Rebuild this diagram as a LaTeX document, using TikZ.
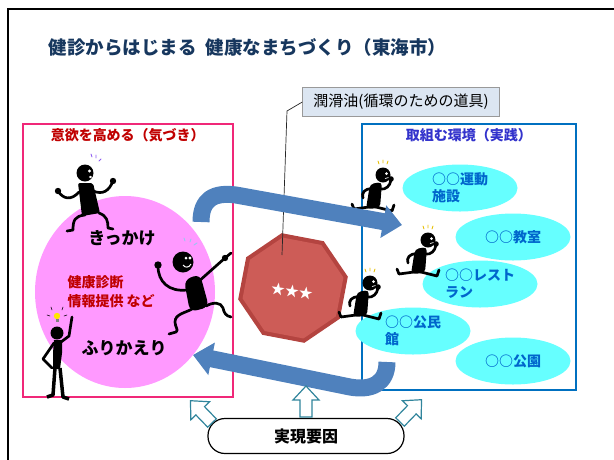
\documentclass[tikz,border=0pt]{standalone}
\usepackage{fontspec}
\setmainfont{Noto Sans CJK JP}
\usetikzlibrary{
    arrows.meta,
    positioning,
    shapes.geometric
}

\definecolor{titleblue}{RGB}{23,55,94}
\definecolor{kizukired}{RGB}{192,0,0}
\definecolor{jissenblue}{RGB}{51,51,204}
\definecolor{pinkline}{RGB}{240,40,120}
\definecolor{boxblue}{RGB}{0,112,192}
\definecolor{pinkfill}{RGB}{255,153,255}
\definecolor{cyanfill}{RGB}{102,255,255}
\definecolor{placeblue}{RGB}{0,102,204}
\definecolor{flowblue}{RGB}{79,129,189}
\definecolor{tealline}{RGB}{49,133,156}
\definecolor{calloutfill}{RGB}{220,230,242}
\definecolor{octred}{RGB}{205,92,87}
\definecolor{octedge}{RGB}{180,68,64}
\definecolor{sparkyellow}{RGB}{230,190,0}
\definecolor{sparkviolet}{RGB}{140,90,240}
\definecolor{sparkblue}{RGB}{150,200,240}
\definecolor{bulbyellow}{RGB}{255,230,0}

\tikzset{
    limb/.style={line width=2.7pt, line cap=round, line join=round},
    spark/.style={line width=0.9pt, line cap=round},
    % running figure, origin at the head
    runner/.pic={
        \fill (0,0) circle (7.5);
        \fill[white] (3.5,-1.5) circle (1.5);
        \draw[white, line width=0.7pt] (2,3.5) -- (5.5,2.5);
        \draw[spark, draw=sparkyellow] (-4,-11) -- (-5,-14) (0,-12) -- (0,-15) (4,-11) -- (5,-14);
        \fill[rounded corners=4] (-13,9) -- (-1,7) -- (-3,33) -- (-17,34) -- cycle;
        \draw[limb] (-11,14) .. controls (-18,13) and (-22,18) .. (-20,23);
        \draw[limb] (-3,14) .. controls (3,15) and (7,11) .. (8,5);
        \fill (8,4) circle (2.8);
        \draw[limb] (-14,32) -- (-29,34) -- (-31,29);
        \draw[limb] (-7,32) -- (9,36) -- (11,30);
    },
    % shrugging figure
    shrugger/.pic={
        \fill (0,0) circle (8.5);
        \fill[white] (4.5,-2) circle (1.7);
        \fill[white] (5.5,4) ellipse (1.6 and 1.2);
        \draw[spark, draw=sparkviolet] (7,-16) -- (6,-19) (11,-15) -- (11,-18) (14,-12) -- (16,-14);
        \fill[rounded corners=2] (-7,10) -- (8,10) -- (15,40) -- (-3,43) -- cycle;
        \draw[limb] (-6,19) .. controls (-14,28) and (-22,26) .. (-27,18);
        \fill (-27,18) circle (3.2);
        \draw[limb] (8,18) .. controls (18,22) and (24,18) .. (28,8);
        \fill (28,8) circle (3.2);
        \draw[limb] (0,42) .. controls (-10,43) and (-12,47) .. (-12,57) -- (-18,58);
        \draw[limb] (14,40) .. controls (22,43) and (23,48) .. (23,55) -- (28,56);
    },
    % pointing figure
    pointer/.pic={
        \fill (0,0) circle (10.5);
        \fill[white] (3,-4) circle (1.5) (7,-4) circle (1.7);
        \draw[white, line width=1pt] (0,3) .. controls (2,6) and (6,6) .. (8,2);
        \draw[spark, draw=sparkblue] (2,-21) -- (1,-24) (7,-20) -- (8,-23) (11,-17) -- (14,-19);
        \fill[rounded corners=7] (1,18) -- (17,12) -- (26,45) -- (7,50) -- cycle;
        \draw[limb] (4,28) .. controls (-14,30) and (-25,20) .. (-25,4);
        \fill (-25,3) circle (3.7);
        \draw[limb] (15,20) -- (42,-4) -- (48,-9);
        \fill (42,-4) circle (3.2);
        \draw[limb] (9,47) .. controls (2,51) and (-8,52) .. (-8,60)
            .. controls (-8,65) and (-4,68) .. (-7,70) -- (-14,72);
        \draw[limb] (23,44) .. controls (30,40) and (38,40) .. (40,46)
            .. controls (41,51) and (43,54) .. (48,55);
    },
    % figure with the light bulb
    thinker/.pic={
        \fill (0,0) circle (6.5);
        \fill (-3,7) -- (5,7) -- (5,20) -- (3,36) -- (-4,36) -- (-4,20) -- cycle;
        \draw[line width=3.5pt, line join=round] (-2,35) -- (-4,62) -- (-10,64);
        \draw[line width=3.5pt, line join=round] (3,35) -- (6,64) -- (12,66);
        \draw[limb] (4,9) -- (12,3) -- (15,-16);
        \draw[limb] (-3,10) -- (-14,26) -- (-5,35);
        \fill[bulbyellow] (0,-17) circle (3.2);
        \fill[gray] (-1.5,-14) rectangle (1.5,-11.5);
        \draw[spark, line width=0.6pt] (-7,-17) -- (-10,-18) (-5,-23) -- (-6,-26)
            (5,-23) -- (6,-26) (7,-17) -- (10,-18);
    },
    % hollow block arrow, tail at the origin
    liftarrow/.pic={
        \draw[draw=tealline, fill=white, line width=1.2pt]
        (-6,0) -- (-6,-17) -- (-13,-17) -- (0,-31) -- (13,-17) -- (6,-17) -- (6,0) -- cycle;
    }
}

\begin{document}
\begin{tikzpicture}[x=1pt,y=-1pt,
    frame/.style={minimum width=#1, anchor=north west, inner sep=0pt},
    place/.style={ellipse, fill=cyanfill, minimum width=115, minimum height=47,
        inner sep=0pt, align=left, text=placeblue,
        font=\bfseries\fontsize{14}{17}\selectfont},
    flow/.style={draw=flowblue, line width=17pt,
        -{Triangle[length=19pt,width=32pt]}},
    big/.style={font=\bfseries\fontsize{17}{20}\selectfont}]

\useasboundingbox (0,0) rectangle (614,459);

% Outer frame
\draw[line width=2.5pt] (8,470) -- (8,9) -- (625,9);

\node[anchor=west, text=titleblue, font=\bfseries\fontsize{18.5}{20}\selectfont]
    (title) at (45,47) {健診からはじまる\hspace{9pt}健康なまちづくり（東海市）};

% Left box
\node[frame=210, draw=pinkline, line width=1.5pt, minimum height=273] (kizuki) at (22,123) {};
\node[below=2pt of kizuki.north, text=kizukired, font=\bfseries\fontsize{14}{16}\selectfont]
    (kizukiTitle) {意欲を高める（気づき）};
\node[ellipse, fill=pinkfill, minimum width=180, minimum height=192] (loop) at (125,292) {};

\node[big] (kikkake) at (122,238) {きっかけ};
\node[anchor=north west, align=left, text=kizukired,
      font=\bfseries\fontsize{14}{19}\selectfont] (kenshin) at (64,272) {健康診断\\情報提供 など};
\node[big] (furikaeri) at (124,348) {ふりかえり};

\pic at (85,173) {shrugger};
\pic at (183,262) {pointer};
\pic at (57,333) {thinker};

% Right box
\node[frame=214, draw=boxblue, line width=1.5pt, minimum height=266] (jissen) at (361,123) {};
\node[below=2pt of jissen.north, text=jissenblue, font=\bfseries\fontsize{14}{16}\selectfont]
    (jissenTitle) {取組む環境（実践）};

\node[place] (sports) at (460,188) {○○運動\\施設};
\node[place] (school) at (513,237) {○○教室};
\node[place] (resto) at (480,284) {○○レスト\\ラン};
\node[place] (hall) at (413,331) {○○公民\\館};
\node[place] (park) at (513,361) {○○公園};

% Octagon
\node[regular polygon, regular polygon sides=8, shape border rotate=-10.8,
      minimum size=112, inner sep=0pt, fill=octedge] (lube) at (293,288) {};
\node[regular polygon, regular polygon sides=8, shape border rotate=-10.8,
      minimum size=103, inner sep=0pt, fill=octred] (lubeFace) at (lube) {};
\node[text=white, rotate=-8, font=\fontsize{14}{14}\selectfont] (stars) at (292,291) {★★★};

% Callout
\node[draw=gray!80, fill=calloutfill, minimum width=197, minimum height=29,
      inner sep=0pt, font=\fontsize{15}{17}\selectfont] (oil) at (401,102) {潤滑油(循環のための道具)};
\coordinate (oilPin) at (282,255);
\draw[gray!30!black, line width=0.7pt] (oil.west) -- (287,111) -- (oilPin);

% Runners
\pic at (383,175) {runner};
\pic at (428,240) {runner};
\pic at (370,283) {runner};

% Cycle arrows
\coordinate (goStart) at (201,222);
\coordinate (goEnd) at (402,225);
\draw[flow] (goStart) .. controls (201,199) and (214,192) .. (236,195) -- (goEnd);

\coordinate (backStart) at (387,362);
\coordinate (backEnd) at (193,355);
\draw[flow] (backStart) .. controls (387,383) and (372,391) .. (350,387) -- (backEnd);

% Factors
\node[draw, line width=1.2pt, fill=white, rounded corners=17, minimum width=196,
      minimum height=35, font=\bfseries\fontsize{16}{18}\selectfont] (factor) at (306,436) {実現要因};

\pic[rotate=44] at (212,423) {liftarrow};
\pic at (306,417) {liftarrow};
\pic[rotate=-44] at (400,422) {liftarrow};

\end{tikzpicture}
\end{document}
